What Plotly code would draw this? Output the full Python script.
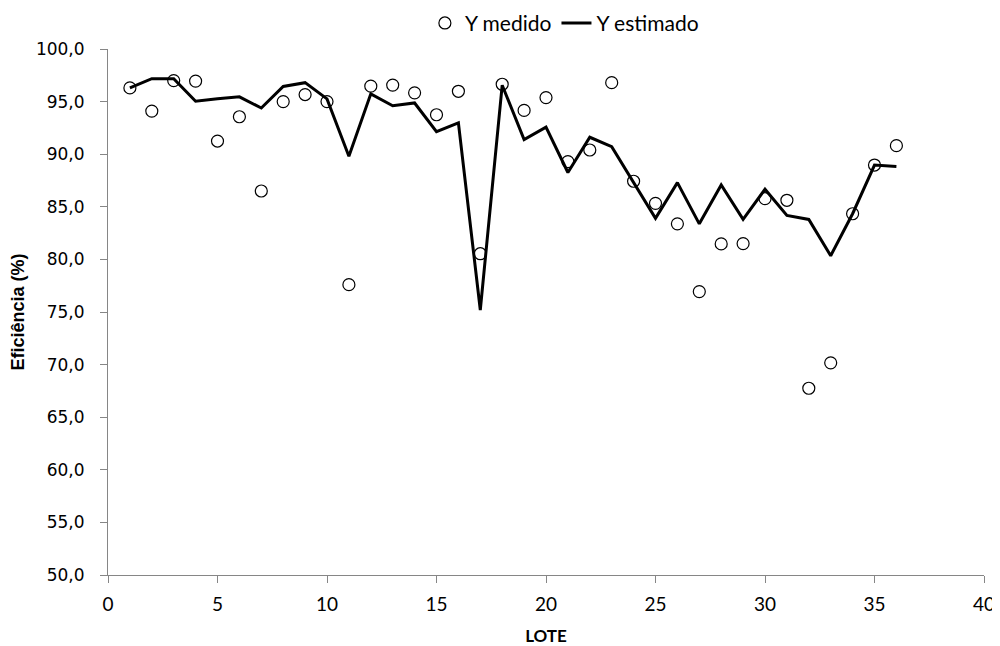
import plotly.graph_objects as go

lote = list(range(1, 37))
y_medido = [96.3, 94.1, 97.0, 96.95, 91.25, 93.56, 86.5, 95.0, 95.67, 95.0,
            77.6, 96.47, 96.57, 95.83, 93.75, 95.98, 80.54, 96.65, 94.16, 95.38,
            89.3, 90.4, 96.8, 87.43, 85.33, 83.38, 76.94, 81.47, 81.5, 85.77,
            85.62, 67.75, 70.17, 84.34, 88.97, 90.81]
y_estimado = [96.3, 97.18, 97.18, 95.03, 95.26, 95.45, 94.39, 96.44, 96.8, 95.26,
              89.8, 95.74, 94.6, 94.87, 92.15, 92.98, 75.19, 96.56, 91.39, 92.57,
              88.26, 91.61, 90.72, 87.3, 83.9, 87.3, 83.38, 87.08, 83.8, 86.67,
              84.18, 83.8, 80.35, 84.34, 88.97, 88.84]

fig = go.Figure()
fig.add_trace(go.Scatter(
    x=lote, y=y_estimado, mode="lines", name="Y estimado",
    line=dict(color="black", width=3), showlegend=False))
fig.add_trace(go.Scatter(
    x=lote, y=y_medido, mode="markers", name="Y medido",
    marker=dict(symbol="circle-open", size=12, color="black", line=dict(width=1.2))))
fig.add_trace(go.Scatter(
    x=[None], y=[None], mode="lines", name="Y estimado",
    line=dict(color="black", width=3)))

axis_col = "#868686"
fig.update_layout(
    width=992, height=638,
    margin=dict(l=100, r=16, t=41, b=71, autoexpand=False),
    plot_bgcolor="white", paper_bgcolor="white",
    separators=",.",
    showlegend=True,
    legend=dict(orientation="h", x=0.521, xanchor="center",
                yref="container", y=0.976, yanchor="middle",
                font=dict(family="Lato", size=21, color="black"),
                itemwidth=30, tracegroupgap=0, bgcolor="rgba(0,0,0,0)"),
    xaxis=dict(range=[0, 40], tickvals=[0, 5, 10, 15, 20, 25, 30, 35, 40],
               automargin=False,
               showgrid=False, zeroline=False, showline=True, linecolor=axis_col,
               linewidth=1, ticks="outside", ticklen=7, tickcolor=axis_col,
               ticklabelstandoff=5,
               tickfont=dict(family="Lato", size=19, color="black"),
               title=dict(text="<b>LOTE</b>", font=dict(family="Lato", size=17, color="black"),
                          standoff=22)),
    yaxis=dict(range=[50, 100], tickvals=[50, 55, 60, 65, 70, 75, 80, 85, 90, 95, 100],
               tickformat=".1f", automargin=False,
               showgrid=False, zeroline=False, showline=True, linecolor=axis_col,
               linewidth=1, ticks="outside", ticklen=7, tickcolor=axis_col,
               ticklabelstandoff=12,
               tickfont=dict(family="DejaVu Sans", size=17, color="black"),
               title=dict(text="<b>Eficiência (%)</b>",
                          font=dict(family="Liberation Sans", size=18, color="black"),
                          standoff=14)),
)

fig.write_html("out.html")
